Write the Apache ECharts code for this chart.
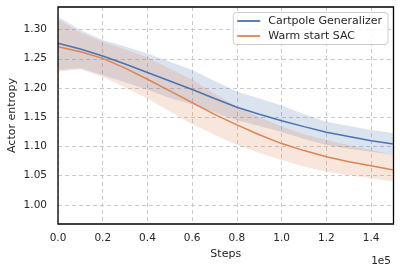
<!DOCTYPE html>
<html><head><meta charset="utf-8">
<script src="https://cdn.jsdelivr.net/npm/echarts@6/dist/echarts.min.js"></script>
<style>html,body{margin:0;padding:0;background:#fff}#c{width:400px;height:268px}</style>
</head><body><div id="c"></div>
<script>
const steps = [0, 10000, 20000, 30000, 40000, 50000, 60000, 70000, 80000, 90000, 100000, 110000, 120000, 130000, 140000, 150000];
const cartpoleMean  = [1.2764, 1.2667, 1.2547, 1.241, 1.2265, 1.212, 1.1975, 1.182, 1.167, 1.155, 1.144, 1.134, 1.1243, 1.117, 1.110, 1.1043];
const cartpoleUpper = [1.3219, 1.299, 1.282, 1.271, 1.259, 1.245, 1.231, 1.212, 1.194, 1.182, 1.170, 1.155, 1.1424, 1.135, 1.128, 1.1226];
const cartpoleLower = [1.2308, 1.2337, 1.222, 1.210, 1.197, 1.183, 1.172, 1.158, 1.145, 1.135, 1.125, 1.113, 1.1026, 1.096, 1.091, 1.0855];
const warmMean  = [1.2706, 1.262, 1.2507, 1.234, 1.215, 1.195, 1.175, 1.155, 1.137, 1.120, 1.105, 1.093, 1.0826, 1.074, 1.067, 1.0598];
const warmUpper = [1.3175, 1.2946, 1.279, 1.266, 1.252, 1.233, 1.214, 1.190, 1.168, 1.150, 1.134, 1.121, 1.111, 1.102, 1.094, 1.0855];
const warmLower = [1.2279, 1.232, 1.2193, 1.201, 1.182, 1.160, 1.138, 1.120, 1.1026, 1.089, 1.077, 1.066, 1.057, 1.051, 1.0456, 1.040];
const yTicks = [1.00, 1.05, 1.10, 1.15, 1.20, 1.25, 1.30];
const seriesNames = ['Cartpole Generalizer', 'Warm start SAC'];
const colors = ['#4c72b0', '#dd8452'];

const pairs = ys => steps.map((s, i) => [s, ys[i]]);

function band(lo, up, color) {
  return {
    type: 'custom', silent: true, z: 1,
    data: steps.map((s, i) => [s, lo[i], up[i]]),
    encode: { x: 0, y: [1, 2] },
    renderItem: function (params, api) {
      if (params.dataIndex !== 0) return null;
      const pts = [];
      for (let i = 0; i < steps.length; i++) pts.push(api.coord([steps[i], up[i]]));
      for (let i = steps.length - 1; i >= 0; i--) pts.push(api.coord([steps[i], lo[i]]));
      return { type: 'polygon', shape: { points: pts }, style: { fill: color, opacity: 0.2 } };
    }
  };
}

const chart = echarts.init(document.getElementById('c'), null, { renderer: 'canvas' });
const font = 'DejaVu Sans';
chart.setOption({
  animation: false,
  backgroundColor: '#fff',
  textStyle: { fontFamily: font },
  grid: { left: 58, right: 6.5, top: 7, bottom: 44, show: false, containLabel: false, outerBoundsMode: 'none' },
  legend: {
    data: seriesNames,
    right: 12, top: 12.5, orient: 'vertical',
    icon: 'rect', itemWidth: 23, itemHeight: 1.8, itemGap: 2,
    backgroundColor: 'rgba(255,255,255,0.8)', borderColor: '#cccccc', borderWidth: 1, borderRadius: 3,
    padding: [2, 6, 2, 4],
    textStyle: { fontFamily: font, fontSize: 11, color: '#262626', padding: [0, 0, 0, 3], lineHeight: 13 }
  },
  xAxis: {
    type: 'value', min: 0, max: 150000, interval: 20000,
    name: 'Steps', nameLocation: 'middle', nameGap: 25, nameMoveOverlap: false,
    nameTextStyle: { fontFamily: font, fontSize: 11, color: '#262626' },
    axisLine: { show: false },
    axisTick: { show: false },
    axisLabel: { fontFamily: font, fontSize: 10.5, color: '#262626', margin: 9,
      formatter: v => (v / 1e5).toFixed(1), showMaxLabel: false },
    splitLine: { show: true, lineStyle: { color: '#c4c4c4', type: [4, 3], width: 0.9 } }
  },
  yAxis: {
    type: 'value', min: 0.9675, max: 1.3385,
    name: 'Actor entropy', nameLocation: 'middle', nameGap: 40, nameMoveOverlap: false,
    nameTextStyle: { fontFamily: font, fontSize: 11, color: '#262626' },
    axisLine: { show: false },
    axisTick: { show: false, customValues: yTicks },
    axisLabel: { fontFamily: font, fontSize: 10.5, color: '#262626', margin: 11,
      customValues: yTicks, formatter: v => v.toFixed(2) },
    splitLine: { show: true, lineStyle: { color: '#c4c4c4', type: [4, 3], width: 0.9 } }
  },
  graphic: [
    { type: 'rect', shape: { x: 58, y: 7, width: 335.5, height: 217 }, style: { fill: 'none', stroke: '#000', lineWidth: 1.3 }, z: 100, silent: true },
    { type: 'text', right: 9, top: 256, style: { text: '1e5', font: '10.5px "DejaVu Sans"', fill: '#262626' } }
  ],
  series: [
    band(cartpoleLower, cartpoleUpper, colors[0]),
    band(warmLower, warmUpper, colors[1]),
    { name: seriesNames[0], type: 'line', data: pairs(cartpoleMean), symbol: 'none', color: colors[0],
      lineStyle: { color: colors[0], width: 1.5 }, z: 3 },
    { name: seriesNames[1], type: 'line', data: pairs(warmMean), symbol: 'none', color: colors[1],
      lineStyle: { color: colors[1], width: 1.5 }, z: 3 }
  ]
});
</script></body></html>
